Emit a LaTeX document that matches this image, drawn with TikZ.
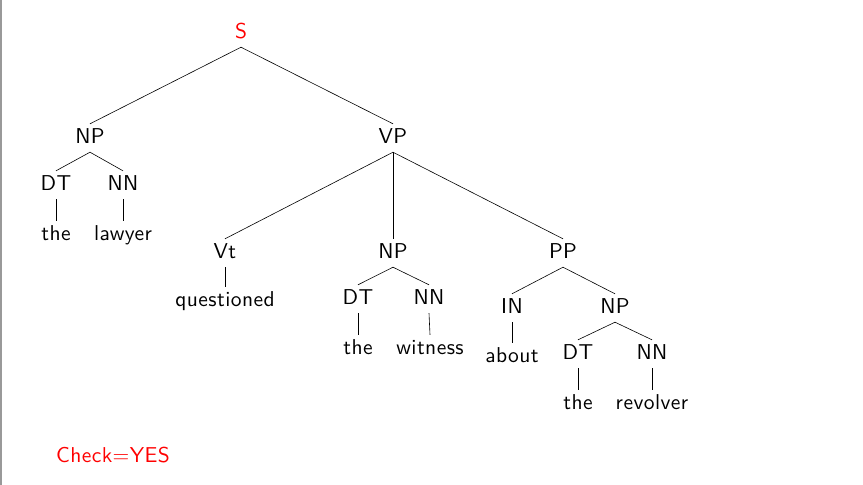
\documentclass[tikz,border=0pt]{standalone}
\usepackage{fontspec}
\newfontfamily\treefont{lmsans10-regular.otf}[LetterSpace=2]
\usepackage{tikz}
\begin{document}
\begin{tikzpicture}[x=1pt,y=-1pt,
  lbl/.style={anchor=base,font=\treefont\fontsize{21.5}{25}\selectfont,text height=14pt,text depth=4pt,inner ysep=5pt,inner xsep=2pt},
  red lbl/.style={lbl,text=red},
  edge/.style={draw=black,line width=0.6pt}]
\useasboundingbox (0,0) rectangle (863,485);
\fill[white] (0,0) rectangle (863,485);
\draw[gray!80,line width=2pt] (1,0) -- (1,485);
% nodes
\node[red lbl] (S) at (241,38) {S};
\node[lbl] (NPa) at (90,143) {NP};
\node[lbl] (DTa) at (56,190) {DT};
\node[lbl] (NNa) at (123,190) {NN};
\node[lbl] (wa1) at (56,240) {the};
\node[lbl] (wa2) at (123,240) {lawyer};
\node[lbl] (VP) at (393,143) {VP};
\node[lbl] (Vt) at (225,258) {Vt};
\node[lbl] (wq) at (225,306) {questioned};
\node[lbl] (NPb) at (393,258) {NP};
\node[lbl] (DTb) at (358,304) {DT};
\node[lbl] (NNb) at (429,304) {NN};
\node[lbl] (wb1) at (358,354) {the};
\node[lbl] (wb2) at (430,354) {witness};
\node[lbl] (PP) at (563,258) {PP};
\node[lbl] (IN) at (512,313) {IN};
\node[lbl] (wab) at (512,362) {about};
\node[lbl] (NPc) at (615,313) {NP};
\node[lbl] (DTc) at (578,359) {DT};
\node[lbl] (NNc) at (652,359) {NN};
\node[lbl] (wc1) at (578,409) {the};
\node[lbl] (wc2) at (652,409) {revolver};
\node[red lbl] (chk) at (113,462) {Check=YES};
% edges
\draw[edge] (S.south) -- (NPa.north);
\draw[edge] (S.south) -- (VP.north);
\draw[edge] (NPa.south) -- (DTa.north);
\draw[edge] (NPa.south) -- (NNa.north);
\draw[edge] (DTa.south) -- (wa1.north);
\draw[edge] (NNa.south) -- (wa2.north);
\draw[edge] (VP.south) -- (Vt.north);
\draw[edge] (VP.south) -- (NPb.north);
\draw[edge] (VP.south) -- (PP.north);
\draw[edge] (Vt.south) -- (wq.north);
\draw[edge] (NPb.south) -- (DTb.north);
\draw[edge] (NPb.south) -- (NNb.north);
\draw[edge] (DTb.south) -- (wb1.north);
\draw[edge] (NNb.south) -- (wb2.north);
\draw[edge] (PP.south) -- (IN.north);
\draw[edge] (PP.south) -- (NPc.north);
\draw[edge] (IN.south) -- (wab.north);
\draw[edge] (NPc.south) -- (DTc.north);
\draw[edge] (NPc.south) -- (NNc.north);
\draw[edge] (DTc.south) -- (wc1.north);
\draw[edge] (NNc.south) -- (wc2.north);
\end{tikzpicture}
\end{document}
